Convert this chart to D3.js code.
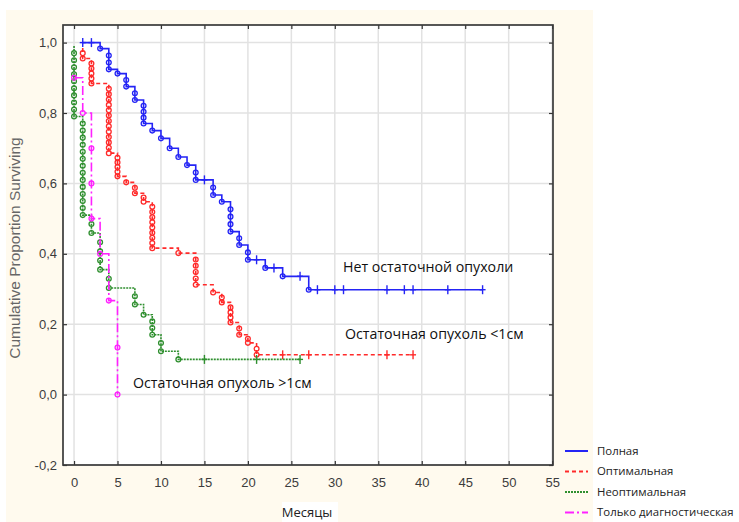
<!DOCTYPE html>
<html>
<head>
<meta charset="utf-8">
<script src="https://cdn.jsdelivr.net/npm/d3@7"></script>
<style>
  body { margin: 0; background: #fff; }
</style>
</head>
<body>
<div id="chart"></div>
<script>
// ---- data (months, proportion surviving) ----
// each step: time, survival after the step, number of events (circles) in the drop
var blueStart = [1, 1.0];
var blueTimes = [3, 4, 5, 6, 7, 8, 9, 10, 11, 12, 13, 14, 16, 17, 18, 19, 20, 22, 24, 27];
var blueSurv = [0.983, 0.924, 0.912, 0.875, 0.837, 0.77, 0.75, 0.728, 0.70, 0.675, 0.652, 0.61, 0.567, 0.548, 0.463, 0.425, 0.383, 0.36, 0.336, 0.298];
var blueDeaths = [1, 3, 1, 2, 2, 4, 1, 1, 1, 1, 1, 2, 2, 1, 4, 2, 2, 1, 1, 1];
var blueCensored = [1, 2, 15, 21, 23, 26, 28, 30, 31, 36, 38, 39, 43, 47];

var redStart = [1, 0.985];
var redTimes = [1, 2, 4, 5, 6, 7, 8, 9, 12, 14, 16, 17, 18, 19, 20, 21];
var redSurv = [0.955, 0.884, 0.686, 0.62, 0.603, 0.572, 0.548, 0.416, 0.402, 0.312, 0.29, 0.262, 0.205, 0.17, 0.147, 0.113];
var redDeaths = [2, 5, 13, 5, 1, 2, 2, 9, 1, 5, 1, 2, 4, 2, 2, 2];
var redCensored = [24, 27, 36, 39];

var greenStart = [0, 0.99];
var greenTimes = [0, 1, 2, 3, 4, 7, 8, 9, 10, 12];
var greenSurv = [0.79, 0.51, 0.459, 0.355, 0.303, 0.256, 0.227, 0.17, 0.123, 0.10];
var greenDeaths = [10, 14, 2, 4, 2, 2, 1, 3, 2, 1];
var greenCensored = [15, 21, 26];

var magStart = [0, 0.9];
var magTimes = [0, 1, 2, 3, 4, 5];
var magSurv = [0.9, 0.8, 0.5, 0.4, 0.267, 0];
var magDeaths = [1, 1, 3, 1, 1, 2];
var magCensored = [];

var xTicks = [0, 5, 10, 15, 20, 25, 30, 35, 40, 45, 50, 55];
var yTicks = [-0.2, 0, 0.2, 0.4, 0.6, 0.8, 1.0];

var legendNames = ["Полная", "Оптимальная", "Неоптимальная", "Только диагностическая"];

var series = [
  {start: blueStart, t: blueTimes, s: blueSurv, n: blueDeaths, c: blueCensored, color: "#2424f5", dash: null},
  {start: redStart, t: redTimes, s: redSurv, n: redDeaths, c: redCensored, color: "#ff2a2a", dash: "4,3"},
  {start: greenStart, t: greenTimes, s: greenSurv, n: greenDeaths, c: greenCensored, color: "#2f8f2f", dash: "2,1"},
  {start: magStart, t: magTimes, s: magSurv, n: magDeaths, c: magCensored, color: "#ff22ff", dash: "9,3,2,3"}
];

var W = 739, H = 522;
var pLeft = 63, pRight = 553, pTop = 25, pBottom = 465;

var svg = d3.select("#chart")
  .append("svg")
  .attr("width", W)
  .attr("height", H);

// cream panel and white plot area
svg.append("rect")
  .attr("x", 6).attr("y", 10)
  .attr("width", 587).attr("height", 512)
  .attr("fill", "#fffaee");

svg.append("rect")
  .attr("x", pLeft).attr("y", pTop)
  .attr("width", pRight - pLeft).attr("height", pBottom - pTop)
  .attr("fill", "#fff");

var x = d3.scaleLinear().domain([-1.27, 55.1]).range([pLeft, pRight]);
var y = d3.scaleLinear().domain([-0.2, 1.05]).range([pBottom, pTop]);

// grid
svg.append("g").selectAll("line")
  .data(xTicks)
  .enter().append("line")
  .attr("x1", function(d) { return x(d); })
  .attr("x2", function(d) { return x(d); })
  .attr("y1", pTop).attr("y2", pBottom)
  .attr("stroke", "#e2e2e2")
  .attr("stroke-width", 1.5);

svg.append("g").selectAll("line")
  .data(yTicks)
  .enter().append("line")
  .attr("y1", function(d) { return y(d); })
  .attr("y2", function(d) { return y(d); })
  .attr("x1", pLeft).attr("x2", pRight)
  .attr("stroke", "#e2e2e2")
  .attr("stroke-width", 1.5);

// axes, ticks pointing inwards
var fmt = function(d) { return d3.format(".1f")(d).replace(".", ",").replace("−", "-"); };

var xAxis = svg.append("g")
  .attr("transform", "translate(0," + pBottom + ")")
  .call(d3.axisBottom(x).tickValues(xTicks).tickSize(-4).tickPadding(13));
var yAxis = svg.append("g")
  .attr("transform", "translate(" + pLeft + ",0)")
  .call(d3.axisLeft(y).tickValues(yTicks).tickSize(-4).tickPadding(6).tickFormat(fmt));
var xTop = svg.append("g")
  .attr("transform", "translate(0," + pTop + ")")
  .call(d3.axisTop(x).tickValues(xTicks).tickSize(-4).tickFormat(""));
var yRight = svg.append("g")
  .attr("transform", "translate(" + pRight + ",0)")
  .call(d3.axisRight(y).tickValues(yTicks).tickSize(-4).tickFormat(""));

[xAxis, yAxis, xTop, yRight].forEach(function(a) {
  a.select(".domain").remove();
  a.selectAll(".tick line").attr("stroke", "#333").attr("stroke-width", 1.2);
  a.selectAll("text")
    .style("font-family", "'Liberation Sans', Arial, sans-serif")
    .style("font-size", "13px")
    .attr("fill", "#3c3c3c");
});

// frame
svg.append("rect")
  .attr("x", pLeft).attr("y", pTop)
  .attr("width", pRight - pLeft).attr("height", pBottom - pTop)
  .attr("fill", "none")
  .attr("stroke", "#3a3a3a")
  .attr("stroke-width", 1.7);

// curves
series.forEach(function(sr) {
  var p = d3.path();
  p.moveTo(x(sr.start[0]), y(sr.start[1]));
  for (var i = 0; i < sr.t.length; i++) {
    p.lineTo(x(sr.t[i]), y(i === 0 ? sr.start[1] : sr.s[i - 1]));
    p.lineTo(x(sr.t[i]), y(sr.s[i]));
  }
  var endT = d3.max(sr.c.concat(sr.t));
  p.lineTo(x(endT), y(sr.s[sr.s.length - 1]));

  svg.append("path")
    .attr("d", p.toString())
    .attr("fill", "none")
    .attr("stroke", sr.color)
    .attr("stroke-width", 1.6)
    .attr("stroke-dasharray", sr.dash);

  // event circles, spread along each drop
  var pts = [];
  sr.t.forEach(function(t, i) {
    var prev = i === 0 ? sr.start[1] : sr.s[i - 1];
    for (var k = 1; k <= sr.n[i]; k++) {
      pts.push([t, prev - k * (prev - sr.s[i]) / sr.n[i]]);
    }
  });
  svg.append("g").selectAll("circle")
    .data(pts)
    .enter().append("circle")
    .attr("cx", function(d) { return x(d[0]); })
    .attr("cy", function(d) { return y(d[1]); })
    .attr("r", 2.4)
    .attr("fill", "none")
    .attr("stroke", sr.color)
    .attr("stroke-width", 1.3);

  // censored marks "+"
  var cens = sr.c.map(function(t) {
    var j = d3.bisectRight(sr.t, t);
    return [t, j === 0 ? sr.start[1] : sr.s[j - 1]];
  });
  var g = svg.append("g");
  g.selectAll(".cv")
    .data(cens)
    .enter().append("line")
    .attr("x1", function(d) { return x(d[0]); })
    .attr("x2", function(d) { return x(d[0]); })
    .attr("y1", function(d) { return y(d[1]) - 4.5; })
    .attr("y2", function(d) { return y(d[1]) + 4.5; })
    .attr("stroke", sr.color)
    .attr("stroke-width", 1.4);
  g.selectAll(".ch")
    .data(cens)
    .enter().append("line")
    .attr("x1", function(d) { return x(d[0]) - 3; })
    .attr("x2", function(d) { return x(d[0]) + 3; })
    .attr("y1", function(d) { return y(d[1]); })
    .attr("y2", function(d) { return y(d[1]); })
    .attr("stroke", sr.color)
    .attr("stroke-width", 1.4);
});

// y axis title
svg.append("text")
  .text("Cumulative Proportion Surviving")
  .attr("transform", "translate(20,248) rotate(-90)")
  .attr("text-anchor", "middle")
  .style("font-family", "'Liberation Sans', Arial, sans-serif")
  .style("font-size", "15.5px")
  .attr("fill", "#666");

// x axis title on a white box
svg.append("rect")
  .attr("x", 282).attr("y", 502)
  .attr("width", 56).attr("height", 20)
  .attr("fill", "#fff");
svg.append("text")
  .text("Месяцы")
  .attr("x", 307).attr("y", 517)
  .attr("text-anchor", "middle")
  .style("font-family", "'Open Sans', sans-serif")
  .style("font-size", "13px")
  .attr("fill", "#222");

// annotations
var notes = [
  {txt: "Нет остаточной опухоли", x: 343, y: 272},
  {txt: "Остаточная опухоль <1см", x: 345, y: 339},
  {txt: "Остаточная опухоль >1см", x: 133, y: 388}
];
svg.append("g").selectAll("text")
  .data(notes)
  .enter().append("text")
  .text(function(d) { return d.txt; })
  .attr("x", function(d) { return d.x; })
  .attr("y", function(d) { return d.y; })
  .style("font-family", "'Open Sans', sans-serif")
  .style("font-size", "14.2px")
  .attr("fill", "#111");

// legend
var leg = svg.append("g");
leg.selectAll("line")
  .data(series)
  .enter().append("line")
  .attr("x1", 565).attr("x2", 588)
  .attr("y1", function(d, i) { return 451 + i * 20.5; })
  .attr("y2", function(d, i) { return 451 + i * 20.5; })
  .attr("stroke", function(d) { return d.color; })
  .attr("stroke-width", 2)
  .attr("stroke-dasharray", function(d) { return d.dash; });
leg.selectAll("text")
  .data(legendNames)
  .enter().append("text")
  .text(function(d) { return d; })
  .attr("x", 597)
  .attr("y", function(d, i) { return 451 + i * 20.5; })
  .attr("dy", "0.35em")
  .style("font-family", "'Open Sans', sans-serif")
  .style("font-size", "11.4px")
  .attr("fill", "#222");
</script>
</body>
</html>
